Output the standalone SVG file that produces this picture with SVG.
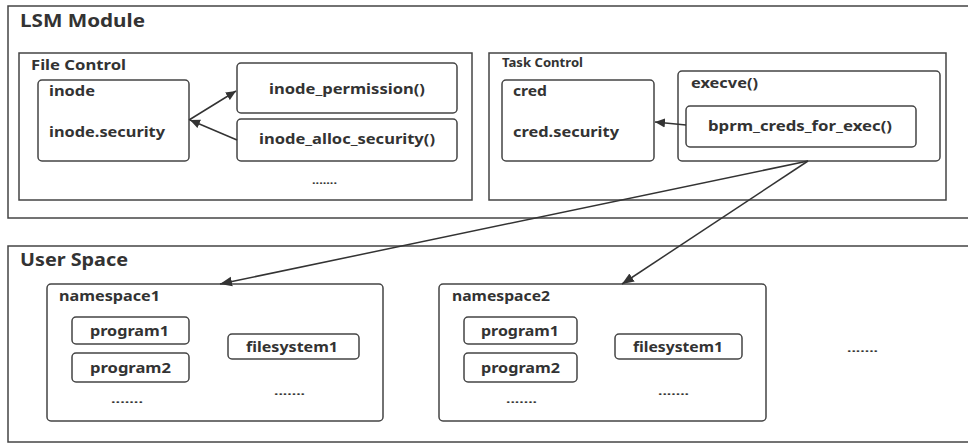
<svg xmlns="http://www.w3.org/2000/svg" width="968" height="443" viewBox="0 0 968 443">
<defs>
<style>
.box{fill:#fff;stroke:#444;stroke-width:1.5}
.rb{fill:#fff;stroke:#444;stroke-width:1.5}
.t{font-family:"Noto Sans","Open Sans","DejaVu Sans",sans-serif;font-weight:bold;fill:#333;font-size:15px}
.h{font-size:18px}
.s{font-size:11.5px}
.d{font-size:11px}
.c{fill:none;stroke:#333;stroke-width:1.5}
</style>
<marker id="ah" viewBox="0 0 10 10" refX="10" refY="5" markerWidth="10" markerHeight="10" markerUnits="userSpaceOnUse" orient="auto">
<path d="M0,0.5 L10,5 L0,9.5 z" fill="#333"/>
</marker>
<marker id="ah2" viewBox="0 0 10 10" refX="10" refY="5" markerWidth="12" markerHeight="12" markerUnits="userSpaceOnUse" orient="auto">
<path d="M0,1 L10,5 L0,9 z" fill="#333"/>
</marker>
</defs>
<rect width="968" height="443" fill="#fff"/>

<g id="lsm-module">
<rect class="box" x="8" y="6" width="970" height="212"/>
<text class="t h" x="20" y="27" textLength="125" lengthAdjust="spacingAndGlyphs">LSM Module</text>
</g>

<g id="file-control">
<rect class="box" x="19" y="53" width="453" height="147"/>
<text class="t" x="31" y="70" textLength="95" lengthAdjust="spacingAndGlyphs">File Control</text>
<text class="t d" x="312" y="184" textLength="25" lengthAdjust="spacingAndGlyphs">.......</text>
</g>

<g id="inode">
<rect class="rb" x="38" y="80" width="151" height="81" rx="4"/>
<text class="t" x="49" y="96" textLength="46" lengthAdjust="spacingAndGlyphs">inode</text>
<text class="t" x="49" y="137" textLength="116" lengthAdjust="spacingAndGlyphs">inode.security</text>
</g>

<g id="inode-permission">
<rect class="rb" x="237" y="63" width="220" height="50" rx="4"/>
<text class="t" x="269" y="94" textLength="156" lengthAdjust="spacingAndGlyphs">inode_permission()</text>
</g>

<g id="inode-alloc-security">
<rect class="rb" x="237" y="119" width="220" height="42" rx="4"/>
<text class="t" x="259" y="144" textLength="176" lengthAdjust="spacingAndGlyphs">inode_alloc_security()</text>
</g>

<g id="task-control">
<rect class="box" x="489" y="53" width="457" height="147"/>
<text class="t s" x="502" y="67" textLength="81" lengthAdjust="spacingAndGlyphs">Task Control</text>
</g>

<g id="cred">
<rect class="rb" x="502" y="80" width="152" height="81" rx="4"/>
<text class="t" x="513" y="96" textLength="34" lengthAdjust="spacingAndGlyphs">cred</text>
<text class="t" x="513" y="137" textLength="106" lengthAdjust="spacingAndGlyphs">cred.security</text>
</g>

<g id="execve">
<rect class="rb" x="678" y="71" width="262" height="90" rx="4"/>
<text class="t" x="691" y="88" textLength="67" lengthAdjust="spacingAndGlyphs">execve()</text>
</g>

<g id="bprm-creds-for-exec">
<rect class="rb" x="686" y="106" width="230" height="41" rx="4"/>
<text class="t" x="708" y="131" textLength="184" lengthAdjust="spacingAndGlyphs">bprm_creds_for_exec()</text>
</g>

<g id="user-space">
<rect class="box" x="8" y="246" width="970" height="196"/>
<text class="t h" x="20" y="266" textLength="108" lengthAdjust="spacingAndGlyphs">User Space</text>
<text class="t d" x="847" y="352" textLength="31" lengthAdjust="spacingAndGlyphs">.......</text>
</g>

<g id="namespace1">
<rect class="rb" x="47" y="284" width="336" height="137" rx="4"/>
<text class="t" x="59" y="301" textLength="101" lengthAdjust="spacingAndGlyphs">namespace1</text>
<rect class="rb" x="72" y="317" width="117" height="27" rx="4"/>
<text class="t" x="90" y="336" textLength="79" lengthAdjust="spacingAndGlyphs">program1</text>
<rect class="rb" x="72" y="353" width="117" height="29" rx="4"/>
<text class="t" x="90" y="373" textLength="81" lengthAdjust="spacingAndGlyphs">program2</text>
<rect class="rb" x="228" y="334" width="131" height="25" rx="4"/>
<text class="t" x="246" y="352" textLength="92" lengthAdjust="spacingAndGlyphs">filesystem1</text>
<text class="t d" x="111" y="403" textLength="32" lengthAdjust="spacingAndGlyphs">.......</text>
<text class="t d" x="274" y="395" textLength="31" lengthAdjust="spacingAndGlyphs">.......</text>
</g>

<g id="namespace2">
<rect class="rb" x="439" y="284" width="327" height="137" rx="4"/>
<text class="t" x="452" y="301" textLength="98" lengthAdjust="spacingAndGlyphs">namespace2</text>
<rect class="rb" x="464" y="317" width="113" height="27" rx="4"/>
<text class="t" x="481" y="336" textLength="78" lengthAdjust="spacingAndGlyphs">program1</text>
<rect class="rb" x="464" y="353" width="113" height="29" rx="4"/>
<text class="t" x="481" y="373" textLength="79" lengthAdjust="spacingAndGlyphs">program2</text>
<rect class="rb" x="615" y="334" width="127" height="25" rx="4"/>
<text class="t" x="633" y="352" textLength="90" lengthAdjust="spacingAndGlyphs">filesystem1</text>
<text class="t d" x="506" y="403" textLength="31" lengthAdjust="spacingAndGlyphs">.......</text>
<text class="t d" x="658" y="395" textLength="31" lengthAdjust="spacingAndGlyphs">.......</text>
</g>

<g id="connectors">
<line class="c" x1="189" y1="120" x2="236" y2="91" marker-end="url(#ah)"/>
<line class="c" x1="237" y1="140" x2="190" y2="120" marker-end="url(#ah)"/>
<line class="c" x1="686" y1="125" x2="655" y2="122" marker-end="url(#ah)"/>
<line class="c" x1="808" y1="161" x2="220" y2="284" marker-end="url(#ah2)"/>
<line class="c" x1="808" y1="161" x2="622" y2="284" marker-end="url(#ah2)"/>
</g>
</svg>
